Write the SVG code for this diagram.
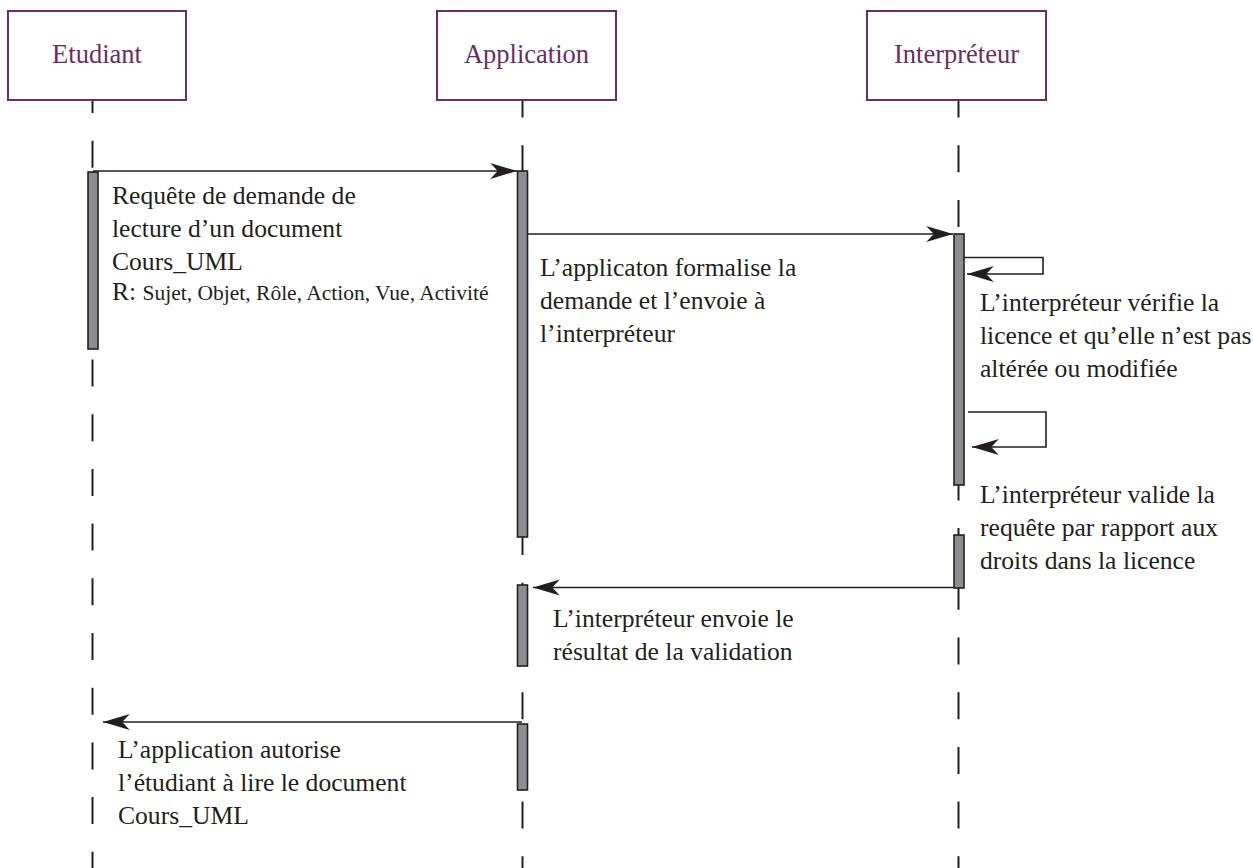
<svg xmlns="http://www.w3.org/2000/svg" width="1253" height="868" viewBox="0 0 1253 868">
  <style>
    .actor { fill: #ffffff; stroke: #6b2d68; stroke-width: 2; }
    .actor-label { font-family: "Liberation Serif", "Times New Roman", serif; font-size: 26.5px; fill: #6b2d68; text-anchor: middle; }
    .lifeline { stroke: #231f20; stroke-width: 2; stroke-dasharray: 27 27.7; fill: none; }
    .bar { fill: #8c8d90; stroke: #231f20; stroke-width: 1.6; }
    .msg { stroke: #231f20; stroke-width: 1.6; fill: none; }
    .note { font-family: "Liberation Serif", "Times New Roman", serif; font-size: 25.6px; fill: #231f20; }
    .small { font-size: 21.5px; }
  </style>
  <defs>
    <marker id="head" markerUnits="userSpaceOnUse" markerWidth="30" markerHeight="20" viewBox="-26 -8 28 16" refX="0" refY="0" orient="auto">
      <path d="M0,0 L-25,-7.5 L-18,0 L-25,7.5 Z" fill="#231f20"/>
    </marker>
  </defs>

  <rect width="1253" height="868" fill="#ffffff"/>

  <!-- lifelines -->
  <g id="lifelines">
    <line class="lifeline" x1="92.5" y1="100" x2="92.5" y2="868" stroke-dashoffset="14"/>
    <line class="lifeline" x1="522.5" y1="100" x2="522.5" y2="868" stroke-dashoffset="9.5"/>
    <line class="lifeline" x1="958.5" y1="100" x2="958.5" y2="868" stroke-dashoffset="9.5"/>
  </g>

  <!-- participants -->
  <g id="etudiant">
    <rect class="actor" x="8" y="11" width="178" height="89"/>
    <text class="actor-label" x="97" y="63">Etudiant</text>
    <rect class="bar" x="88" y="172" width="10" height="177"/>
  </g>
  <g id="application">
    <rect class="actor" x="437" y="11" width="179" height="89"/>
    <text class="actor-label" x="526.5" y="63">Application</text>
    <rect class="bar" x="517.5" y="171" width="10" height="366"/>
    <rect class="bar" x="517.5" y="585" width="10" height="81"/>
    <rect class="bar" x="517.5" y="724" width="10" height="66"/>
  </g>
  <g id="interpreteur">
    <rect class="actor" x="867" y="11" width="179" height="89"/>
    <text class="actor-label" x="956.5" y="63">Interpréteur</text>
    <rect class="bar" x="954" y="234" width="10" height="251"/>
    <rect class="bar" x="954" y="535" width="10" height="53"/>
  </g>

  <!-- messages -->
  <g id="connectors">
    <line class="msg" x1="93" y1="171" x2="517" y2="171" marker-end="url(#head)"/>
    <line class="msg" x1="527" y1="234" x2="953" y2="234" marker-end="url(#head)"/>
    <polyline class="msg" points="964,257.5 1043,257.5 1043,274 967,274" marker-end="url(#head)"/>
    <polyline class="msg" points="968,412 1046,412 1046,447 972,447" marker-end="url(#head)"/>
    <line class="msg" x1="954" y1="587.5" x2="533" y2="587.5" marker-end="url(#head)"/>
    <line class="msg" x1="522" y1="722" x2="103" y2="722" marker-end="url(#head)"/>
  </g>

  <!-- message labels -->
  <g id="labels">
    <text class="note" x="112" y="204">Requête de demande de</text>
    <text class="note" x="112" y="237">lecture d’un document</text>
    <text class="note" x="112" y="270">Cours_UML</text>
    <text class="note" x="112" y="300">R: <tspan class="small">Sujet, Objet, Rôle, Action, Vue, Activité</tspan></text>

    <text class="note" x="540" y="276">L’applicaton formalise la</text>
    <text class="note" x="540" y="309">demande et l’envoie à</text>
    <text class="note" x="540" y="342">l’interpréteur</text>

    <text class="note" x="980" y="311">L’interpréteur vérifie la</text>
    <text class="note" x="980" y="344">licence et qu’elle n’est pas</text>
    <text class="note" x="980" y="377">altérée ou modifiée</text>

    <text class="note" x="980" y="503">L’interpréteur valide la</text>
    <text class="note" x="980" y="536">requête par rapport aux</text>
    <text class="note" x="980" y="569">droits dans la licence</text>

    <text class="note" x="553" y="627">L’interpréteur envoie le</text>
    <text class="note" x="553" y="660">résultat de la validation</text>

    <text class="note" x="118" y="758">L’application autorise</text>
    <text class="note" x="118" y="791">l’étudiant à lire le document</text>
    <text class="note" x="118" y="824">Cours_UML</text>
  </g>
</svg>
